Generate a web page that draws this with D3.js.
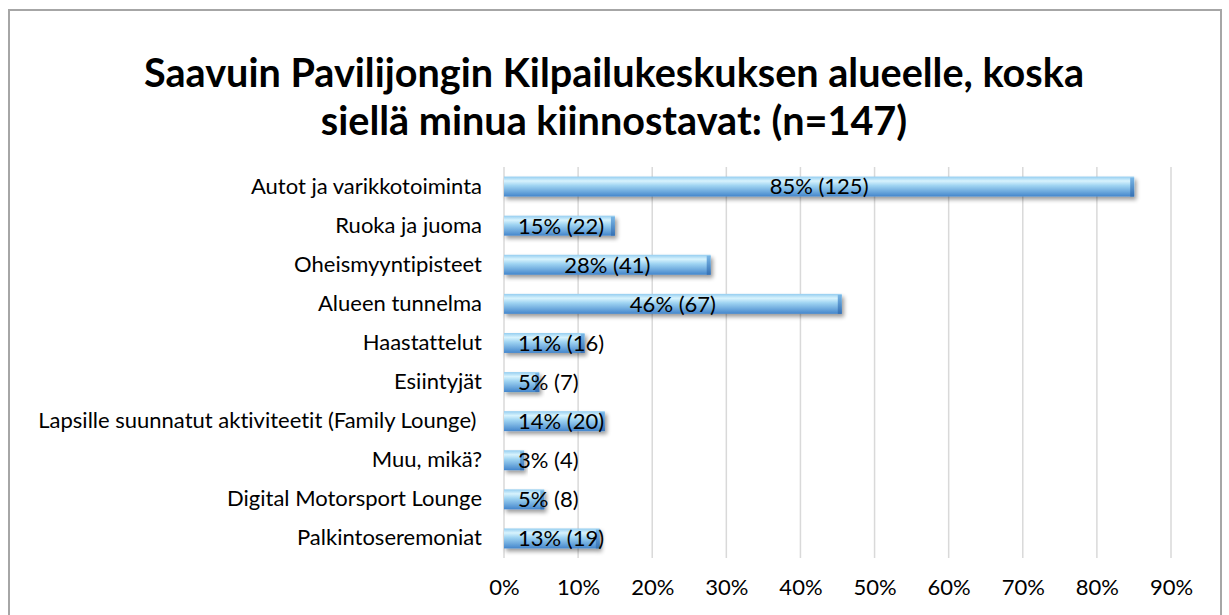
<!DOCTYPE html>
<html>
<head>
<meta charset="utf-8">
<script src="https://cdn.jsdelivr.net/npm/d3@7"></script>
<style>
  body { margin: 0; background: #fff; }
  text { font-family: Lato, "Open Sans", sans-serif; font-variant-ligatures: none; }
</style>
</head>
<body>
<div id="chart"></div>
<script>
// data
const categories = ['Autot ja varikkotoiminta', 'Ruoka ja juoma', 'Oheismyyntipisteet', 'Alueen tunnelma',
  'Haastattelut', 'Esiintyjät', 'Lapsille suunnatut aktiviteetit (Family Lounge) ', 'Muu, mikä?',
  'Digital Motorsport Lounge', 'Palkintoseremoniat']
const counts = [125, 22, 41, 67, 16, 7, 20, 4, 8, 19]
const percents = [85, 15, 28, 46, 11, 5, 14, 3, 5, 13]
const total = 147
const ticks = [0, 0.1, 0.2, 0.3, 0.4, 0.5, 0.6, 0.7, 0.8, 0.9]
const titleLines = ['Saavuin Pavilijongin Kilpailukeskuksen alueelle, koska', 'siellä minua kiinnostavat: (n=147)']

const width = 1229, height = 615
const margin = {top: 167, right: 57, bottom: 57, left: 504}

let data = categories.map(function(c, i) {
  return {cat: c, count: counts[i], pct: percents[i], share: counts[i] / total}
})

let svg = d3.select('#chart').append('svg')
  .attr('width', width)
  .attr('height', height)

// chart frame
svg.append('rect')
  .attr('x', 9).attr('y', 10)
  .attr('width', 1212).attr('height', 640)
  .attr('fill', 'none')
  .attr('stroke', '#a6a6a6')
  .attr('stroke-width', 2)

let defs = svg.append('defs')
let grad = defs.append('linearGradient')
  .attr('id', 'barGrad')
  .attr('x1', 0).attr('y1', 0).attr('x2', 0).attr('y2', 1)
grad.append('stop').attr('offset', '0%').attr('stop-color', '#94cdf0')
grad.append('stop').attr('offset', '22%').attr('stop-color', '#d8f3fd')
grad.append('stop').attr('offset', '45%').attr('stop-color', '#9fd4f2')
grad.append('stop').attr('offset', '100%').attr('stop-color', '#4486cc')

let capGrad = defs.append('linearGradient')
  .attr('id', 'capGrad')
  .attr('x1', 0).attr('y1', 0).attr('x2', 0).attr('y2', 1)
capGrad.append('stop').attr('offset', '0%').attr('stop-color', '#7ab7e6')
capGrad.append('stop').attr('offset', '100%').attr('stop-color', '#3570b4')

let shadow = defs.append('filter')
  .attr('id', 'shadow')
  .attr('x', '-5%').attr('y', '-30%')
  .attr('width', '120%').attr('height', '180%')
shadow.append('feGaussianBlur').attr('in', 'SourceAlpha').attr('stdDeviation', 2).attr('result', 'blur')
shadow.append('feOffset').attr('in', 'blur').attr('dx', 2).attr('dy', 3).attr('result', 'off')
shadow.append('feComponentTransfer').attr('in', 'off').attr('result', 'soft')
  .append('feFuncA').attr('type', 'linear').attr('slope', 0.4)
let merge = shadow.append('feMerge')
merge.append('feMergeNode').attr('in', 'soft')
merge.append('feMergeNode').attr('in', 'SourceGraphic')

let x = d3.scaleLinear()
  .domain([0, 0.9])
  .range([margin.left, width - margin.right - 1])

let y = d3.scaleBand()
  .domain(categories)
  .range([margin.top, height - margin.bottom])
  .paddingInner(0.49)
  .paddingOuter(0.245)

// title
svg.append('g').selectAll('text')
  .data(titleLines)
  .enter().append('text')
  .attr('x', 614)
  .attr('y', function(d, i) { return 87 + i * 48 })
  .attr('text-anchor', 'middle')
  .style('font-size', '39.6px')
  .style('font-weight', 'bold')
  .attr('fill', '#000')
  .text(function(d) { return d })

// gridlines
svg.append('g').selectAll('line')
  .data(ticks)
  .enter().append('line')
  .attr('x1', function(d) { return x(d) })
  .attr('x2', function(d) { return x(d) })
  .attr('y1', margin.top)
  .attr('y2', height - margin.bottom)
  .attr('stroke', '#d9d9d9')
  .attr('stroke-width', 1.5)

// x axis labels
let xAxis = svg.append('g')
  .attr('transform', 'translate(0,' + (height - margin.bottom) + ')')
  .call(d3.axisBottom(x).tickValues(ticks).tickFormat(d3.format('.0%')).tickSize(0).tickPadding(21))
xAxis.select('.domain').remove()
xAxis.selectAll('text')
  .style('font-size', '22px')
  .attr('fill', '#000')

// category labels
let yAxis = svg.append('g')
  .attr('transform', 'translate(' + (margin.left - 22) + ',0)')
  .call(d3.axisLeft(y).tickSize(0).tickPadding(0))
yAxis.select('.domain').remove()
yAxis.selectAll('text')
  .style('font-size', '22px')
  .style('white-space', 'pre')
  .attr('fill', '#000')

// bars
let bars = svg.append('g').selectAll('g.bar')
  .data(data)
  .enter().append('g')
  .attr('class', 'bar')
  .style('filter', 'url(#shadow)')

bars.append('rect')
  .attr('x', x(0))
  .attr('y', function(d) { return y(d.cat) })
  .attr('width', function(d) { return x(d.share) - x(0) })
  .attr('height', y.bandwidth())
  .attr('fill', 'url(#barGrad)')

bars.append('rect')
  .attr('x', function(d) { return x(d.share) - 4 })
  .attr('y', function(d) { return y(d.cat) + 1 })
  .attr('width', 4)
  .attr('height', y.bandwidth() - 1)
  .attr('fill', 'url(#capGrad)')

// data labels
let labels = svg.append('g').selectAll('text')
  .data(data)
  .enter().append('text')
  .attr('y', function(d) { return y(d.cat) + y.bandwidth() / 2 })
  .attr('dy', '0.36em')
  .attr('text-anchor', 'middle')
  .style('font-size', '22px')
  .attr('fill', '#000')
  .text(function(d) { return d.pct + '% (' + d.count + ')' })

labels.attr('x', function(d) {
  let w = this.getComputedTextLength()
  let mid = (x(0) + x(d.share)) / 2
  return Math.max(mid, x(0) + 14 + w / 2)
})
</script>
</body>
</html>
